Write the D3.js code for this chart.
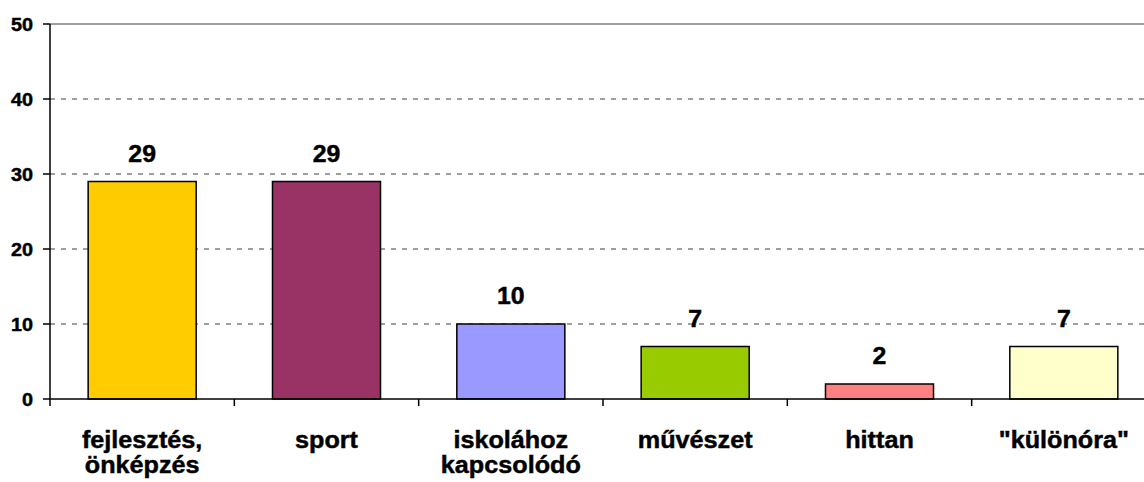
<!DOCTYPE html>
<html>
<head>
<meta charset="utf-8">
<script src="https://cdn.jsdelivr.net/npm/d3@7"></script>
<style>
  html, body { margin: 0; padding: 0; background: #fff; }
  svg { display: block; }
  text { font-family: "Liberation Sans", Arial, sans-serif; font-weight: bold; fill: #000; stroke: #000; stroke-width: 0.45px; }
</style>
</head>
<body>
<svg id="chart" width="1144" height="482"></svg>
<script>
// Kategóriák (két soros feliratokkal) és értékek
const categories = ["fejlesztés, önképzés", "sport", "iskolához kapcsolódó", "művészet", "hittan", "\"különóra\""];
const labelLines = [["fejlesztés,", "önképzés"], ["sport"], ["iskolához", "kapcsolódó"], ["művészet"], ["hittan"], ["\"különóra\""]];
const values = [29, 29, 10, 7, 2, 7];
const colors = ["#FFCC00", "#993366", "#9999FF", "#99CC00", "#FF8080", "#FFFFCC"];
const yTicks = [0, 10, 20, 30, 40, 50];

const svg = d3.select("#chart");

const plot = { left: 50, right: 1156, top: 24, bottom: 399 };

const x = d3.scaleBand()
  .domain(categories)
  .range([plot.left, plot.right])
  .paddingInner(0.414)
  .paddingOuter(0.207);

const y = d3.scaleLinear().domain([0, 50]).range([plot.bottom, plot.top]);

// Horizontally widened text, positioned at (px, py)
function wideText(sel, px, py, sx) {
  return sel.attr("x", 0).attr("y", 0)
    .attr("transform", `translate(${px},${py}) scale(${sx},1)`);
}

// Gridlines
svg.append("g")
  .selectAll("line")
  .data(yTicks.filter(t => t > 0 && t < 50))
  .join("line")
  .attr("x1", plot.left).attr("x2", plot.right)
  .attr("y1", d => y(d)).attr("y2", d => y(d))
  .attr("stroke", "#808080")
  .attr("stroke-width", 1.3)
  .attr("stroke-dasharray", "5,6");

// Plot area top border
svg.append("line")
  .attr("x1", plot.left).attr("x2", plot.right)
  .attr("y1", y(50)).attr("y2", y(50))
  .attr("stroke", "#808080").attr("stroke-width", 1.5);

// Bars
svg.append("g")
  .selectAll("rect")
  .data(values)
  .join("rect")
  .attr("x", (d, i) => x(categories[i]))
  .attr("width", x.bandwidth())
  .attr("y", d => y(d))
  .attr("height", d => y(0) - y(d))
  .attr("fill", (d, i) => colors[i])
  .attr("stroke", "#000")
  .attr("stroke-width", 1.5);

// Value labels above bars
svg.append("g")
  .selectAll("text")
  .data(values)
  .join("text")
  .attr("text-anchor", "middle")
  .attr("font-size", 23)
  .text(d => d)
  .each(function (d, i) {
    wideText(d3.select(this), x(categories[i]) + x.bandwidth() / 2, y(d) - 20, 1.08);
  });

// Y axis
const yAxis = svg.append("g");
yAxis.append("line")
  .attr("x1", plot.left).attr("x2", plot.left)
  .attr("y1", y(50)).attr("y2", y(0))
  .attr("stroke", "#000").attr("stroke-width", 1.5);
yAxis.selectAll("line.tick")
  .data(yTicks)
  .join("line")
  .attr("class", "tick")
  .attr("x1", plot.left - 7).attr("x2", plot.left)
  .attr("y1", d => y(d)).attr("y2", d => y(d))
  .attr("stroke", "#000").attr("stroke-width", 1.5);
yAxis.selectAll("text")
  .data(yTicks)
  .join("text")
  .attr("text-anchor", "end")
  .attr("font-size", 18)
  .text(d => d)
  .each(function (d) {
    wideText(d3.select(this), 33, y(d) + 6.5, 1.1);
  });

// X axis
const xAxis = svg.append("g");
xAxis.append("line")
  .attr("x1", plot.left).attr("x2", plot.right)
  .attr("y1", y(0)).attr("y2", y(0))
  .attr("stroke", "#000").attr("stroke-width", 1.5);
const bounds = d3.range(categories.length + 1).map(i => plot.left + i * x.step());
xAxis.selectAll("line.tick")
  .data(bounds)
  .join("line")
  .attr("class", "tick")
  .attr("x1", d => d).attr("x2", d => d)
  .attr("y1", y(0)).attr("y2", y(0) + 7)
  .attr("stroke", "#000").attr("stroke-width", 1.5);

// Category labels: one text element per category, lines as tspans
xAxis.selectAll("text.cat")
  .data(categories)
  .join("text")
  .attr("class", "cat")
  .attr("text-anchor", "middle")
  .attr("font-size", 24)
  .each(function (c, i) {
    const t = d3.select(this);
    wideText(t, x(c) + x.bandwidth() / 2, 448, 1.05);
    labelLines[i].forEach((line, j) => {
      t.append("tspan")
        .attr("x", 0)
        .attr("dy", j === 0 ? 0 : 25)
        .text(line);
    });
  });
</script>
</body>
</html>
